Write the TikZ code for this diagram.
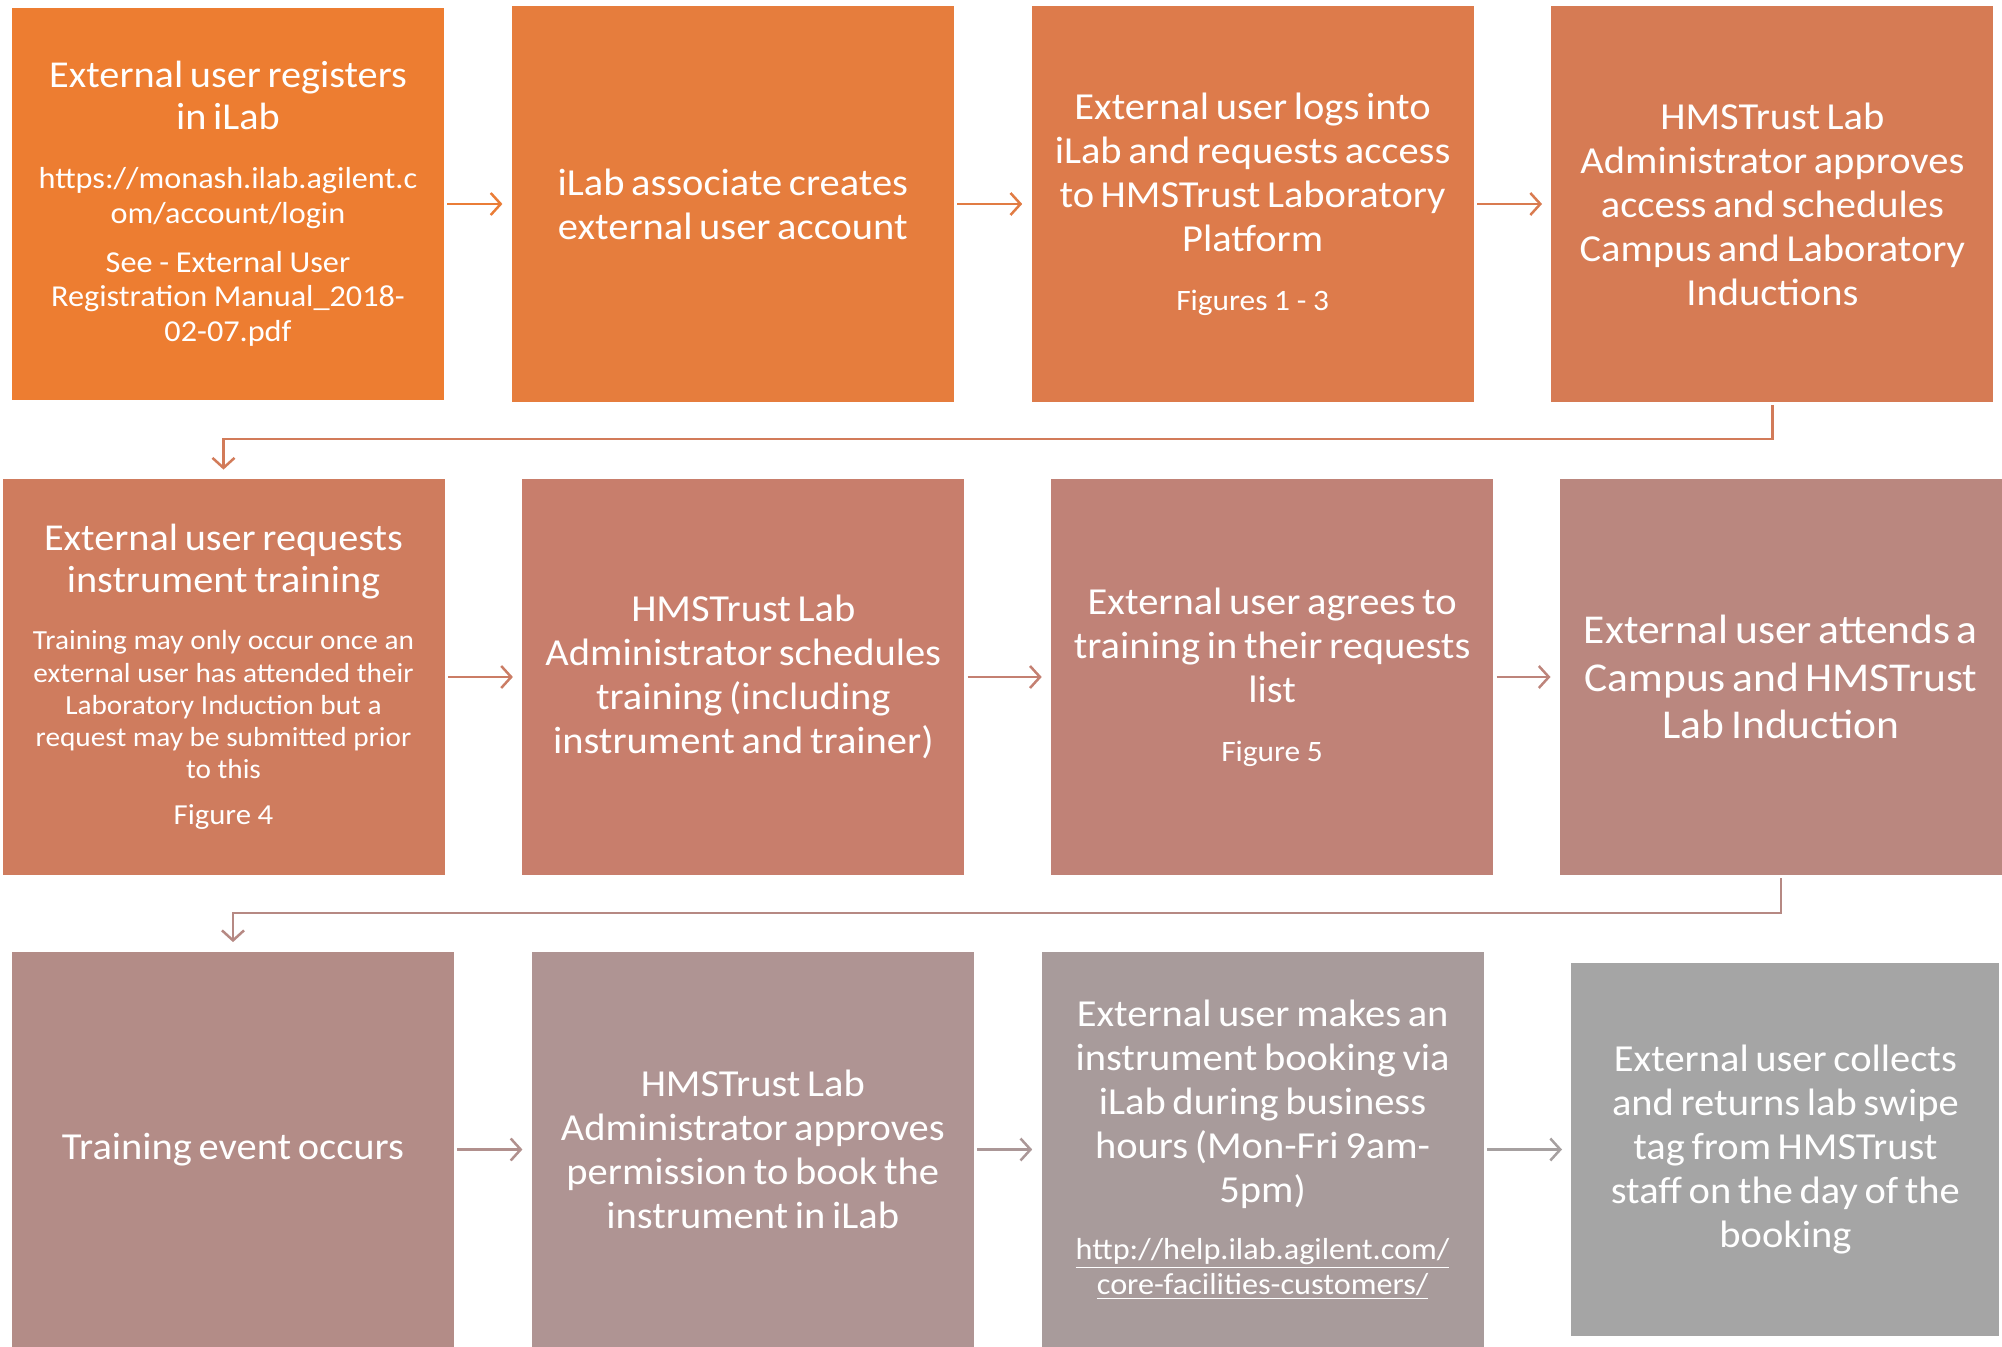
\documentclass[tikz,border=0pt]{standalone}
\usepackage{fontspec}
\setmainfont{Carlito}[FakeStretch=1.06]
\usetikzlibrary{positioning,arrows.meta}

\definecolor{tone1}{HTML}{ED7D31}
\definecolor{tone2}{HTML}{E67D3D}
\definecolor{tone3}{HTML}{DD7B4B}
\definecolor{tone4}{HTML}{D67B54}
\definecolor{tone5}{HTML}{CF7C5E}
\definecolor{tone6}{HTML}{C87E6C}
\definecolor{tone7}{HTML}{C08277}
\definecolor{tone8}{HTML}{BA877F}
\definecolor{tone9}{HTML}{B38C87}
\definecolor{tone10}{HTML}{AF9493}
\definecolor{tone11}{HTML}{A89B9B}
\definecolor{tone12}{HTML}{A5A5A5}

\newcommand{\headsize}{\fontsize{19.1}{22}\selectfont}
\newcommand{\notesize}{\fontsize{14.8}{17.3}\selectfont}

\begin{document}
\begin{tikzpicture}[x=0.5pt,y=-0.5pt,
  stage node/.style={rectangle,fill=#1,text=white,minimum width=221pt,minimum height=198pt,text width=214pt,align=center,inner sep=0pt},
  link/.style={line width=1.25pt,-{Straight Barb[length=5pt,width=11pt]},shorten <=1.5pt,shorten >=4.5pt}]
\useasboundingbox (0,0) rectangle (2002,1347);

% first row
\node[stage node=tone1,minimum width=216pt,minimum height=196pt] (1) at (228,204)
  {{\fontsize{19}{21}\selectfont External user registers\\in iLab\par}\vspace{12pt}
   {\fontsize{15.2}{17.4}\selectfont https://monash.ilab.agilent.c\\om/account/login\par\vspace{7pt}
    See - External User\\Registration Manual\_2018-\\02-07.pdf\par}};
\node[stage node=tone2] (2) [right=33.5pt of 1]
  {{\headsize iLab associate creates\\external user account\par}};
\node[stage node=tone3] (3) [right=38.5pt of 2]
  {{\headsize External user logs into\\iLab and requests access\\to HMSTrust Laboratory\\Platform\par}\vspace{12pt}
   {\notesize Figures 1 - 3\par}};
\node[stage node=tone4] (4) [right=38.5pt of 3]
  {{\headsize HMSTrust Lab\\Administrator approves\\access and schedules\\Campus and Laboratory\\Inductions\par}};

% second row
\node[stage node=tone5] (5) at (223.5,677)
  {{\fontsize{19}{21}\selectfont External user requests\\instrument training\par}\vspace{12.5pt}
   {\fontsize{13.8}{16.1}\selectfont Training may only occur once an\\external user has attended their\\Laboratory Induction but a\\request may be submitted prior\\to this\par\vspace{7pt}
    \fontsize{14.5}{16.1}\selectfont Figure 4\par}};
\node[stage node=tone6] (6) [right=38.5pt of 5]
  {{\headsize HMSTrust Lab\\Administrator schedules\\training (including\\instrument and trainer)\par}};
\node[stage node=tone7] (7) [right=43pt of 6]
  {{\headsize External user agrees to\\training in their requests\\list\par}\vspace{12pt}
   {\notesize Figure 5\par}};
\node[stage node=tone8] (8) [right=33pt of 7]
  {{\fontsize{20.5}{23.6}\selectfont External user attends a\\Campus and HMSTrust\\Lab Induction\par}};

% third row
\node[stage node=tone9] (9) at (233,1149.5)
  {{\headsize Training event occurs\par}};
\node[stage node=tone10] (10) [right=38.5pt of 9]
  {{\headsize HMSTrust Lab\\Administrator approves\\permission to book the\\instrument in iLab\par}};
\node[stage node=tone11] (11) [right=33.5pt of 10]
  {{\headsize External user makes an\\instrument booking via\\iLab during business\\hours (Mon-Fri 9am-\\5pm)\par}\vspace{11.5pt}
   {\fontsize{15.2}{17.3}\selectfont \underline{http://help.ilab.agilent.com/}\\\underline{core-facilities-customers/}\par}};
\node[stage node=tone12,minimum width=213.5pt,minimum height=186.5pt] (12) [right=43.5pt of 11]
  {{\headsize External user collects\\and returns lab swipe\\tag from HMSTrust\\staff on the day of the\\booking\par}};

\coordinate (turn1) at (0,439);
\coordinate (turn2) at (0,913);

\path[link]
  (1) edge[draw=tone1!50!tone2] (2)
  (2) edge[draw=tone2!50!tone3] (3)
  (3) edge[draw=tone3!50!tone4] (4)
  (5) edge[draw=tone5!50!tone6] (6)
  (6) edge[draw=tone6!50!tone7] (7)
  (7) edge[draw=tone7!50!tone8] (8)
  (9) edge[draw=tone9!50!tone10] (10)
  (10) edge[draw=tone10!50!tone11] (11)
  (11) edge[draw=tone11!50!tone12] (12);

\draw[link,draw=tone4!50!tone5] (4.south) -- (4.south |- turn1) -| (5.north);
\draw[link,draw=tone8!50!tone9] (8.south) -- (8.south |- turn2) -| (9.north);
\end{tikzpicture}
\end{document}
